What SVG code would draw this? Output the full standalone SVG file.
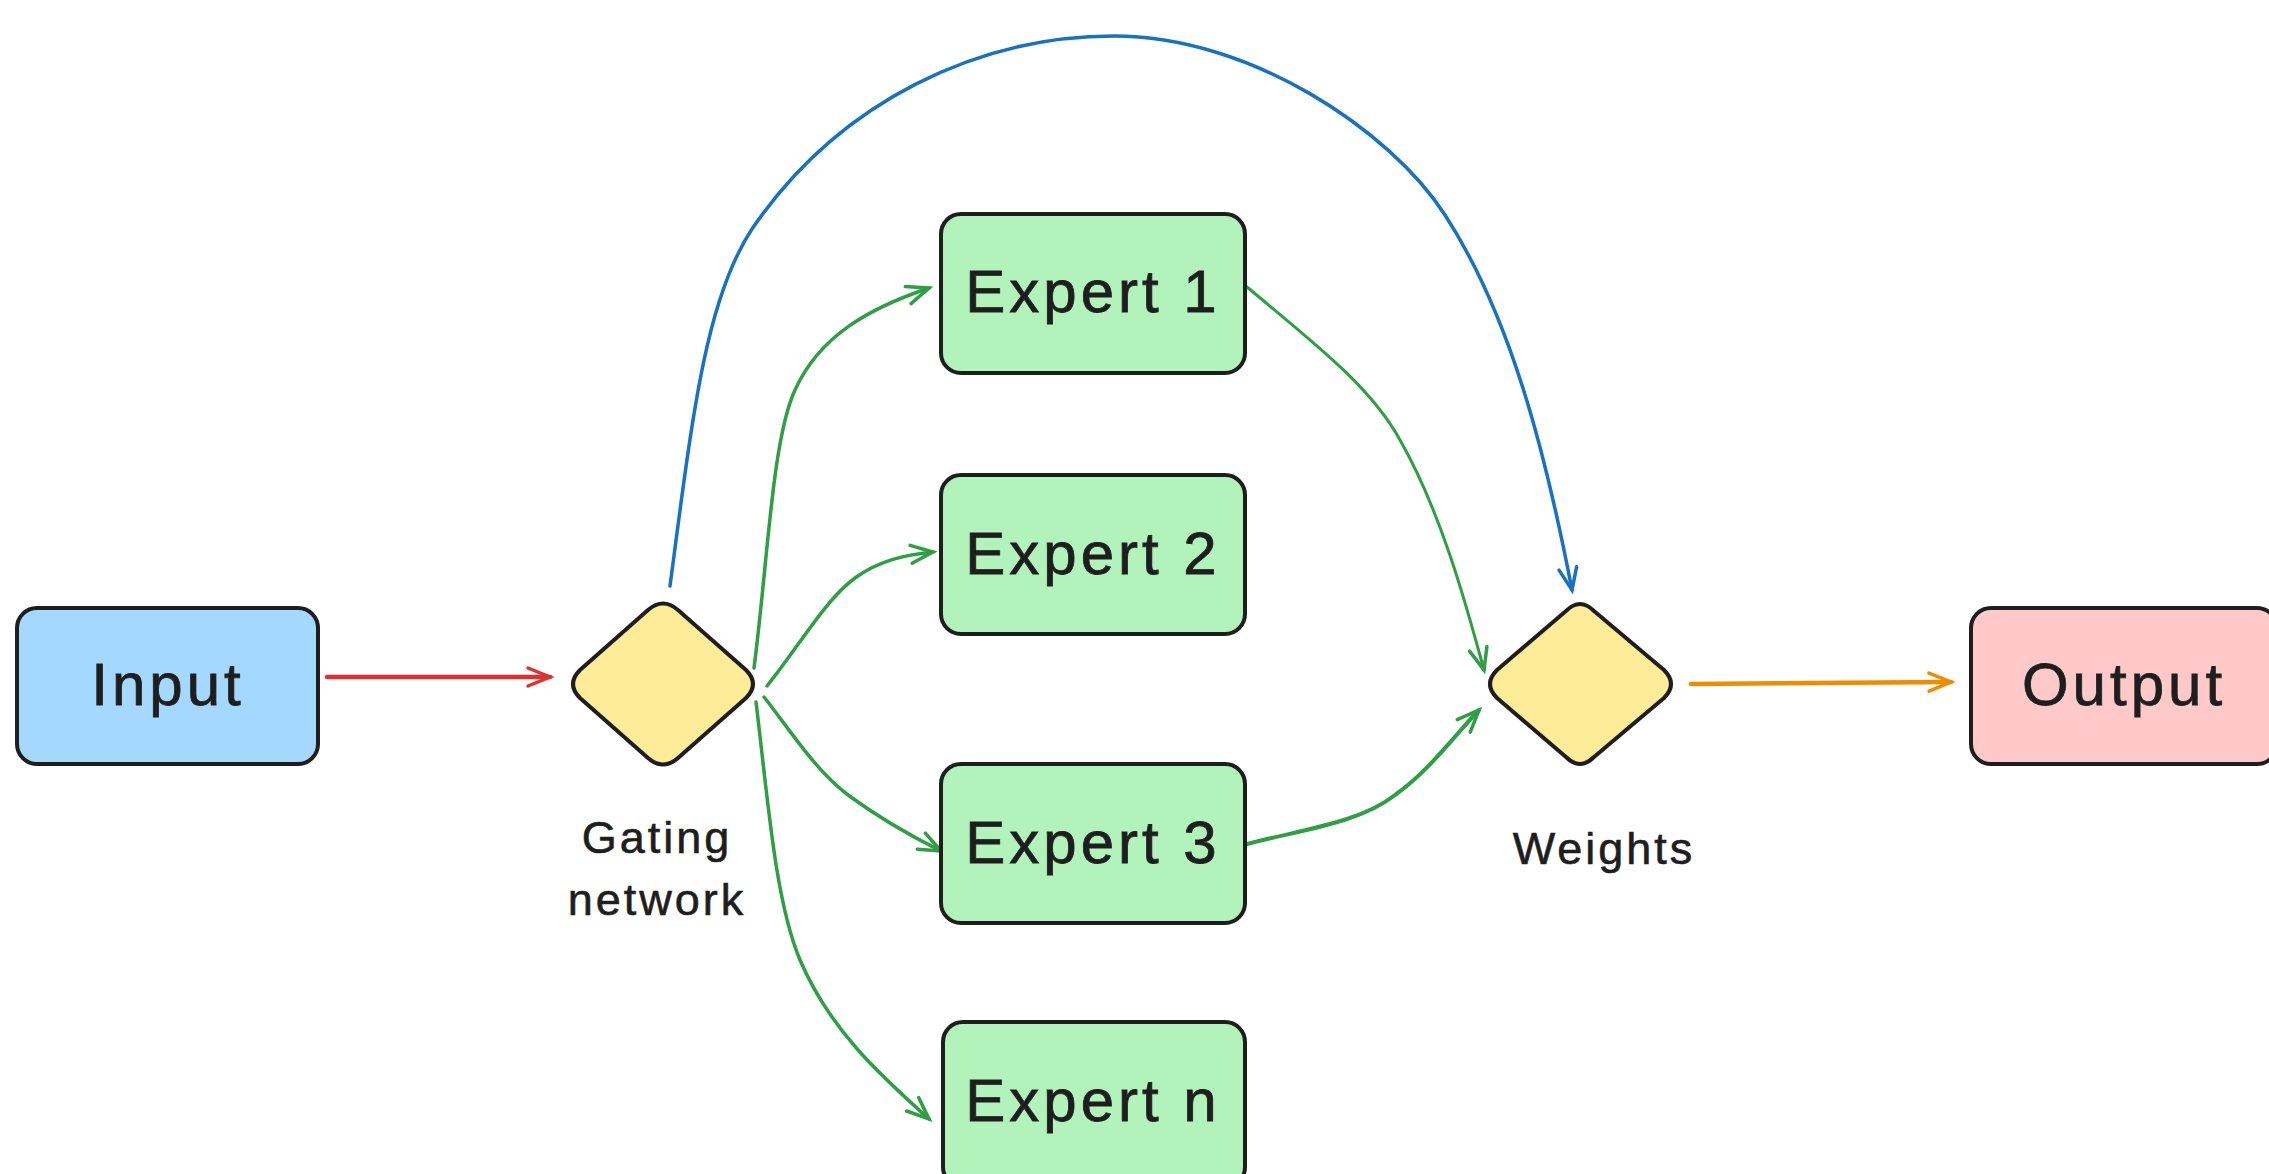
<svg xmlns="http://www.w3.org/2000/svg" width="2269" height="1174" viewBox="0 0 2269 1174">
<defs>
<style>
.box{stroke:#1e1e1e;stroke-width:4;stroke-linejoin:round}
.lbl{font-family:"Liberation Sans","Noto Sans",sans-serif;font-size:60px;letter-spacing:4px;fill:#1e1e1e;stroke:#1e1e1e;stroke-width:0.8;text-anchor:middle;dominant-baseline:central}
.cap{font-family:"Liberation Sans","Noto Sans",sans-serif;font-size:45px;letter-spacing:3px;fill:#1e1e1e;stroke:#1e1e1e;stroke-width:0.6;text-anchor:middle}
.con{fill:none;stroke-linecap:round;stroke-linejoin:round}
</style>
<marker id="ahR" markerWidth="30" markerHeight="30" refX="0" refY="0" viewBox="-25 -15 30 30" orient="auto" markerUnits="userSpaceOnUse"><path d="M-22,-9 L0,0 L-22,9" fill="none" stroke="#e03131" stroke-width="3.5" stroke-linecap="round"/></marker>
<marker id="ahB" markerWidth="30" markerHeight="30" refX="0" refY="0" viewBox="-25 -15 30 30" orient="auto" markerUnits="userSpaceOnUse"><path d="M-22,-9 L0,0 L-22,9" fill="none" stroke="#1971c2" stroke-width="3.5" stroke-linecap="round"/></marker>
<marker id="ahG" markerWidth="30" markerHeight="30" refX="0" refY="0" viewBox="-25 -15 30 30" orient="auto" markerUnits="userSpaceOnUse"><path d="M-22,-9 L0,0 L-22,9" fill="none" stroke="#2f9e44" stroke-width="3.5" stroke-linecap="round"/></marker>
<marker id="ahO" markerWidth="30" markerHeight="30" refX="0" refY="0" viewBox="-25 -15 30 30" orient="auto" markerUnits="userSpaceOnUse"><path d="M-22,-9 L0,0 L-22,9" fill="none" stroke="#f08c00" stroke-width="3.5" stroke-linecap="round"/></marker>
</defs>
<rect width="2269" height="1174" fill="#ffffff"/>
<g id="connectors">
<path class="con" d="M327,677 L550,677" stroke="#e03131" stroke-width="4.5" marker-end="url(#ahR)"/>
<path class="con" d="M670,586 C692,420 705,300 752,229 C840,100 980,36 1114,36 C1250,36 1390,130 1445,215 C1510,315 1545,450 1572,590" stroke="#1971c2" stroke-width="3.5" marker-end="url(#ahB)"/>
<path class="con" d="M754,668 C768,560 772,440 795,390 C820,335 870,308 929,288" stroke="#2f9e44" stroke-width="3.5" marker-end="url(#ahG)"/>
<path class="con" d="M767,686 C800,645 825,600 855,578 C880,560 905,555 933,552" stroke="#2f9e44" stroke-width="3.5" marker-end="url(#ahG)"/>
<path class="con" d="M764,697 C790,730 815,770 848,795 C875,815 905,833 941,851" stroke="#2f9e44" stroke-width="3.5" marker-end="url(#ahG)"/>
<path class="con" d="M756,702 C768,800 775,900 800,960 C830,1030 880,1075 929,1119" stroke="#2f9e44" stroke-width="3.5" marker-end="url(#ahG)"/>
<path class="con" d="M1247,287 C1310,340 1370,385 1400,440 C1440,510 1465,600 1484,670" stroke="#2f9e44" stroke-width="3" marker-end="url(#ahG)"/>
<path class="con" d="M1247,844 C1300,830 1360,823 1395,795 C1430,770 1455,735 1479,710" stroke="#2f9e44" stroke-width="4" marker-end="url(#ahG)"/>
<path class="con" d="M1691,684 L1951,682" stroke="#f08c00" stroke-width="4.5" marker-end="url(#ahO)"/>
</g>
<g id="input"><rect class="box" x="17" y="608" width="301" height="156" rx="20" fill="#a5d8ff"/><text class="lbl" x="168" y="684">Input</text></g>
<g id="gating"><path class="box" d="M648,610 Q663,597 678,610 L746,670 Q760,684 746,698 L678,758 Q663,771 648,758 L580,698 Q566,684 580,670 Z" fill="#ffec99"/>
<text class="cap" x="657" y="853">Gating</text><text class="cap" x="657" y="915">network</text></g>
<g id="expert1"><rect class="box" x="941" y="214" width="304" height="159" rx="20" fill="#b2f2bb"/><text class="lbl" x="1093" y="291">Expert 1</text></g>
<g id="expert2"><rect class="box" x="941" y="475" width="304" height="159" rx="20" fill="#b2f2bb"/><text class="lbl" x="1093" y="553">Expert 2</text></g>
<g id="expert3"><rect class="box" x="941" y="764" width="304" height="159" rx="20" fill="#b2f2bb"/><text class="lbl" x="1093" y="842">Expert 3</text></g>
<g id="expertn"><rect class="box" x="943" y="1022" width="302" height="165" rx="20" fill="#b2f2bb"/><text class="lbl" x="1093" y="1100">Expert n</text></g>
<g id="weights"><path class="box" d="M1566,611 Q1580,597 1594,611 L1664,670 Q1678,684 1664,698 L1594,757 Q1580,771 1566,757 L1497,698 Q1483,684 1497,670 Z" fill="#ffec99"/>
<text class="cap" x="1604" y="864">Weights</text></g>
<g id="output"><rect class="box" x="1971" y="608" width="306" height="156" rx="20" fill="#ffc9c9"/><text class="lbl" x="2124" y="684">Output</text></g>
</svg>
